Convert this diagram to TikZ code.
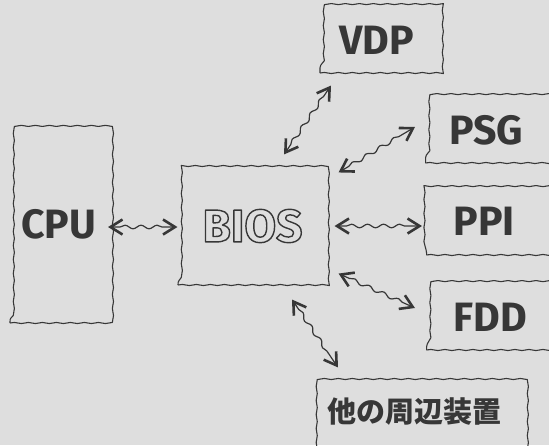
\documentclass[tikz,border=0pt]{standalone}
\usepackage{fontspec}
\setmainfont{Fira Sans}
\newfontfamily\jpfont{Noto Sans CJK JP}
\usetikzlibrary{decorations.pathmorphing,arrows.meta}
\definecolor{bg}{RGB}{222,222,222}
\definecolor{ink}{RGB}{55,55,55}
\newcommand{\outlinetext}[1]{\special{pdf:literal direct 1 Tr 1.4 w}#1\special{pdf:literal direct 0 Tr}}
\begin{document}
\begin{tikzpicture}[x=1pt,y=-1pt,
  box/.style={draw=ink, line width=1.1pt, line join=round, decorate,
    decoration={snake, amplitude=0.55pt, segment length=14pt}, inner sep=0pt},
  lbl/.style={text=ink, font=\fontsize{41}{41}\selectfont\bfseries},
  rbox/.style={box, lbl, anchor=west, text width=165pt, align=left, minimum width=165pt},
  tip/.tip={Straight Barb[length=12pt,width=15pt,line width=2.6pt]},
  link/.style={draw=ink, line width=1.2pt, decorate,
    decoration={snake, amplitude=1.8pt, segment length=16pt, pre length=12pt, post length=12pt},
    tip-tip}]
\fill[bg] (0,0) rectangle (549,445);
\clip (0,0) rectangle (549,445);
\node[box, lbl, minimum width=97.5pt, minimum height=198pt] (cpu) at (58.75,224) {\raisebox{-6pt}{CPU}};
\node[box, minimum width=149pt, minimum height=118pt] (bios) at (252.5,226)
  {\color{ink}\fontsize{46}{46}\selectfont\bfseries\outlinetext{BIOS}};
\node[box, lbl, minimum width=123pt, minimum height=66pt] (vdp) at (381.5,40) {\hspace*{-10pt}\raisebox{-3pt}{VDP}};
\node[rbox, minimum height=66pt] (psg) at (425,130) {\hspace*{24pt}PSG};
\node[rbox, minimum height=68pt] (ppi) at (426,221) {\hspace*{27pt}PPI};
\node[rbox, minimum height=65pt] (fdd) at (426,317.5) {\hspace*{27pt}FDD};
\node[box, text=ink, minimum width=215pt, minimum height=91pt, text depth=28pt,
  font=\jpfont\bfseries\fontsize{29}{29}\selectfont] (other) at (414.5,424.5) {他の周辺装置};
\draw[link] ([yshift=-3pt]cpu.east) -- ([yshift=-1pt]bios.west);
\draw[link] ([xshift=7pt]bios.east) -- ([xshift=-4pt,yshift=-5pt]ppi.west);
\draw[link] ([xshift=31.5pt,yshift=12pt]bios.north) -- ([xshift=-50.5pt,yshift=-12pt]vdp.south);
\draw[link] ([xshift=11pt,yshift=-6pt]bios.north east) -- ([xshift=-10pt,yshift=3pt]psg.west);
\draw[link] ([xshift=11pt,yshift=12pt]bios.south east) -- ([xshift=-11pt,yshift=9.5pt]fdd.west);
\draw[link] ([xshift=39.5pt,yshift=-14pt]bios.south) -- ([xshift=-76.5pt,yshift=11pt]other.north);
\end{tikzpicture}
\end{document}
